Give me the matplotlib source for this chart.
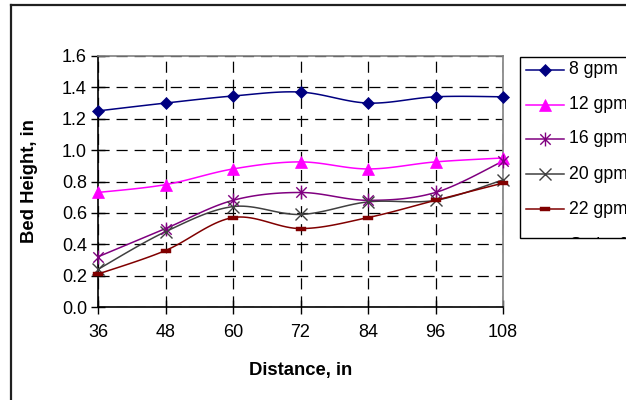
import numpy as np
import matplotlib
matplotlib.use("Agg")
import matplotlib.pyplot as plt
from matplotlib.path import Path
from matplotlib.lines import Line2D
from matplotlib.patches import Rectangle
from matplotlib.transforms import Bbox

plt.rcParams['font.family'] = ['Liberation Sans', 'DejaVu Sans']
plt.rcParams['lines.scale_dashes'] = False

distance = [36, 48, 60, 72, 84, 96, 108]
gpm8 = [1.25, 1.30, 1.345, 1.37, 1.30, 1.34, 1.34]
gpm12 = [0.73, 0.78, 0.88, 0.925, 0.88, 0.925, 0.95]
gpm16 = [0.32, 0.50, 0.68, 0.73, 0.68, 0.73, 0.93]
gpm20 = [0.24, 0.48, 0.64, 0.59, 0.67, 0.68, 0.81]
gpm22 = [0.21, 0.36, 0.57, 0.50, 0.57, 0.68, 0.79]
series_labels = ['8 gpm', '12 gpm', '16 gpm', '20 gpm', '22 gpm', 'Series6']
yticks = [0.0, 0.2, 0.4, 0.6, 0.8, 1.0, 1.2, 1.4, 1.6]

W, H = 626, 400
fig = plt.figure(figsize=(W / 100, H / 100), dpi=100)
ax = fig.add_axes([98 / W, 1 - 307 / H, 405 / W, 251 / H])

star = Path([(0, -1), (0, 1), (-0.75, -0.75), (0.75, 0.75), (-0.75, 0.75), (0.75, -0.75)],
            [Path.MOVETO, Path.LINETO, Path.MOVETO, Path.LINETO, Path.MOVETO, Path.LINETO])
dash = Path([(-1, -0.35), (1, -0.35), (1, 0.35), (-1, 0.35), (-1, -0.35)],
            [Path.MOVETO, Path.LINETO, Path.LINETO, Path.LINETO, Path.CLOSEPOLY])

styles = [
    dict(color='#000080', marker='D', ms=6, mfc='#000080', mec='#000080', mew=0.5),
    dict(color='#FF00FF', marker='^', ms=8, mfc='#FF00FF', mec='#FF00FF', mew=0.5),
    dict(color='#800080', marker=star, ms=10, mfc='none', mec='#800080', mew=1.0),
    dict(color='#404040', marker='x', ms=8, mfc='none', mec='#404040', mew=1.0),
    dict(color='#800000', marker=dash, ms=7, mfc='#800000', mec='#800000', mew=0.3),
]


def smooth(x, y, n=20):
    x = np.asarray(x, float)
    y = np.asarray(y, float)
    px = np.concatenate([[x[0]], x, [x[-1]]])
    py = np.concatenate([[y[0]], y, [y[-1]]])
    xs, ys = [], []
    for i in range(1, len(px) - 2):
        p0 = np.array([px[i - 1], py[i - 1]])
        p1 = np.array([px[i], py[i]])
        p2 = np.array([px[i + 1], py[i + 1]])
        p3 = np.array([px[i + 2], py[i + 2]])
        c1 = p1 + (p2 - p0) / 6.0
        c2 = p2 - (p3 - p1) / 6.0
        t = np.linspace(0, 1, n)[:, None]
        b = (1 - t) ** 3 * p1 + 3 * (1 - t) ** 2 * t * c1 + 3 * (1 - t) * t ** 2 * c2 + t ** 3 * p2
        xs.extend(b[:, 0])
        ys.extend(b[:, 1])
    return xs, ys


all_series = [gpm8, gpm12, gpm16, gpm20, gpm22]
for vals, st in zip(all_series, styles):
    sx, sy = smooth(distance, vals)
    ax.plot(sx, sy, color=st['color'], lw=1.1, zorder=3, clip_on=False)
    ax.plot(distance, vals, ls='none', marker=st['marker'], ms=st['ms'],
            mfc=st['mfc'], mec=st['mec'], mew=st['mew'], zorder=4, clip_on=False)

ax.set_xlim(36, 108)
ax.set_ylim(0, 1.6)
ax.set_xticks(distance)
ax.set_xticklabels([str(d) for d in distance])
ax.set_yticks(yticks)
ax.set_yticklabels([f'{v:.1f}' for v in yticks])
ax.tick_params(direction='inout', length=10, width=1, labelsize=13, color='black')
ax.tick_params(axis='y', pad=3)
ax.tick_params(axis='x', pad=7)
ax.grid(True, color='black', lw=0.9, linestyle=(0, (8, 5)))
ax.set_axisbelow(True)
for s in ['left', 'bottom']:
    ax.spines[s].set_color('black')
    ax.spines[s].set_linewidth(1.2)
for s in ['top', 'right']:
    ax.spines[s].set_color('#808080')
    ax.spines[s].set_linewidth(1.2)

ax.set_xlabel('Distance, in', fontsize=13.3, fontweight='bold')
ax.xaxis.set_label_coords(0.5, (307 - 370) / 251)
ax.xaxis.label.set_va('center')
ax.set_ylabel('Bed Height, in', fontsize=13.3, fontweight='bold')
ax.yaxis.set_label_coords((30 - 98) / 405, 0.5)
ax.yaxis.label.set_va('center')


def fx(px):
    return px / W


def fy(py):
    return 1 - py / H


# outer chart frame
fig.add_artist(Line2D([fx(11), fx(11)], [fy(5), fy(402)], color='#202020', lw=1.6,
                      transform=fig.transFigure))
fig.add_artist(Line2D([fx(11), fx(630)], [fy(5), fy(5)], color='#202020', lw=1.6,
                      transform=fig.transFigure))

# legend (clipped like the original)
box_l, box_t, box_b = 520, 57, 238
fig.add_artist(Rectangle((fx(box_l), fy(box_b)), fx(700) - fx(box_l), fy(box_t) - fy(box_b),
                         transform=fig.transFigure, facecolor='white', edgecolor='black',
                         lw=1.0, zorder=5))
clip = Bbox.from_extents(box_l, H - box_b, 700, H - box_t)
rows = [69.5, 104.5, 139, 174, 209, 246]
for i, (lab, yrow) in enumerate(zip(series_labels, rows)):
    if i < len(styles):
        st = styles[i]
        fig.add_artist(Line2D([fx(526), fx(564)], [fy(yrow), fy(yrow)], color=st['color'], lw=1.1,
                              transform=fig.transFigure, zorder=6))
        fig.add_artist(Line2D([fx(545)], [fy(yrow)], ls='none', marker=st['marker'], ms=st['ms'],
                              mfc=st['mfc'], mec=st['mec'], mew=st['mew'],
                              transform=fig.transFigure, zorder=7))
    t = fig.text(fx(569), fy(yrow), lab, fontsize=12.7, va='center', ha='left', zorder=8)
    t.set_clip_box(clip)
    t.set_clip_on(True)

fig.savefig('out.png', dpi=100, facecolor='white')
